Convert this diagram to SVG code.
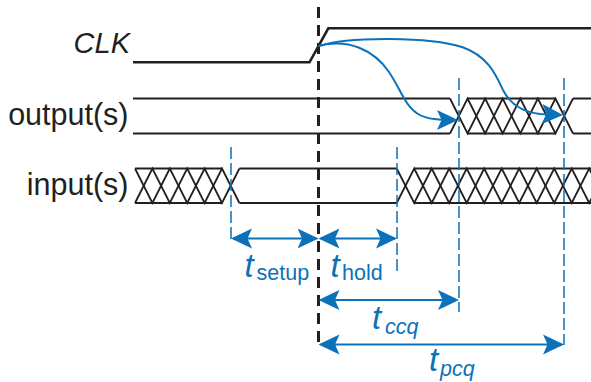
<svg xmlns="http://www.w3.org/2000/svg" width="591" height="382" viewBox="0 0 591 382">
<defs>
<style>
.wave{fill:none;stroke:#231f20;stroke-width:2;stroke-linejoin:miter}
.clk{fill:none;stroke:#231f20;stroke-width:2.6}
.hatch{fill:none;stroke:#231f20;stroke-width:1.8}
.sig{font-family:"Liberation Sans",Arial,sans-serif;font-size:30.5px;fill:#231f20}
.sigi{font-family:"Liberation Sans",Arial,sans-serif;font-size:29px;font-style:italic;fill:#231f20}
.ref{fill:none;stroke:#231f20;stroke-width:3;stroke-dasharray:11 7}
.guide{fill:none;stroke:#0b72ba;stroke-width:1.5;stroke-dasharray:12 4}
.dim{fill:none;stroke:#0b72ba;stroke-width:2;marker-start:url(#ah);marker-end:url(#ah)}
.cause{fill:none;stroke:#0b72ba;stroke-width:2;marker-end:url(#ah)}
.lbl{font-family:"Liberation Sans",Arial,sans-serif;fill:#0b72ba}
.tt{font-size:33px;font-style:italic}
.sub{font-size:21.5px}
.subi{font-size:21.5px;font-style:italic}
</style>
<marker id="ah" markerUnits="userSpaceOnUse" viewBox="0 0 21 21" refX="19" refY="10.5" markerWidth="21" markerHeight="21" orient="auto-start-reverse">
<path d="M0,0.5 L21,10.5 L0,20.5 L4.5,10.5 Z" fill="#0b72ba"/>
</marker>
</defs>

<g id="labels">
<text class="sigi" x="130" y="53" text-anchor="end">CLK</text>
<text class="sig" x="128.5" y="124.5" text-anchor="end">output(s)</text>
<text class="sig" x="128.5" y="194.5" text-anchor="end">input(s)</text>
</g>

<g id="clk">
<path class="clk" d="M133,62.3 H309.5 L328.3,28.3 H591"/>
</g>

<g id="outputs">
<path class="wave" d="M133,98.5 H450 M133,133.5 H450 M467.57,98.5 H555.43 M467.57,133.5 H555.43 M573,98.5 H591 M573,133.5 H591"/>
<polyline class="hatch" points="450,98.5 467.57,133.5 485.14,98.5 502.71,133.5 520.29,98.5 537.86,133.5 555.43,98.5 573,133.5"/>
<polyline class="hatch" points="450,133.5 467.57,98.5 485.14,133.5 502.71,98.5 520.29,133.5 537.86,98.5 555.43,133.5 573,98.5"/>
</g>

<g id="inputs">
<path class="wave" d="M135,168.5 H222 M135,203 H222 M239.4,168.5 H396.7 M239.4,203 H396.7 M414.2,168.5 H591 M414.2,203 H591"/>
<polyline class="hatch" points="135,168.5 152.4,203 169.8,168.5 187.2,203 204.6,168.5 222,203 239.4,168.5"/>
<polyline class="hatch" points="135,203 152.4,168.5 169.8,203 187.2,168.5 204.6,203 222,168.5 239.4,203"/>
<polyline class="hatch" points="396.7,168.5 414.2,203 431.7,168.5 449.2,203 466.7,168.5 484.2,203 501.7,168.5 519.2,203 536.7,168.5 554.2,203 571.7,168.5 589.2,203 606.7,168.5"/>
<polyline class="hatch" points="396.7,203 414.2,168.5 431.7,203 449.2,168.5 466.7,203 484.2,168.5 501.7,203 519.2,168.5 536.7,203 554.2,168.5 571.7,203 589.2,168.5 606.7,203"/>
</g>

<g id="connectors">
<line class="ref" x1="318.5" y1="7" x2="318.5" y2="348"/>
<line class="guide" x1="231" y1="147" x2="231" y2="243"/>
<line class="guide" x1="397" y1="147" x2="397" y2="275"/>
<line class="guide" x1="459" y1="78" x2="459" y2="312"/>
<line class="guide" x1="564" y1="78" x2="564" y2="345"/>
<path class="cause" d="M318.5,46 C348,38 374,50 389,72 C401,90 405,106 418,114 C427,119.5 440,120 456,120"/>
<path class="cause" d="M318.5,46 C350,36 430,37 462,47 C488,56 496,75 503,90 C510,104 522,112 540,114 L561,115"/>
<line class="dim" x1="233" y1="238.5" x2="316.5" y2="238.5"/>
<line class="dim" x1="320.5" y1="238.5" x2="395" y2="238.5"/>
<line class="dim" x1="320.5" y1="300" x2="457" y2="300"/>
<line class="dim" x1="320.5" y1="344.5" x2="562" y2="344.5"/>
</g>

<g id="dim-labels">
<text class="lbl" x="244.5" y="277"><tspan class="tt">t</tspan><tspan class="sub" x="256.5" y="280">setup</tspan></text>
<text class="lbl" x="330.5" y="277"><tspan class="tt">t</tspan><tspan class="sub" x="342" y="280">hold</tspan></text>
<text class="lbl" x="372" y="329"><tspan class="tt">t</tspan><tspan class="subi" x="385" y="334">ccq</tspan></text>
<text class="lbl" x="429" y="371"><tspan class="tt">t</tspan><tspan class="subi" x="440" y="376">pcq</tspan></text>
</g>
</svg>
